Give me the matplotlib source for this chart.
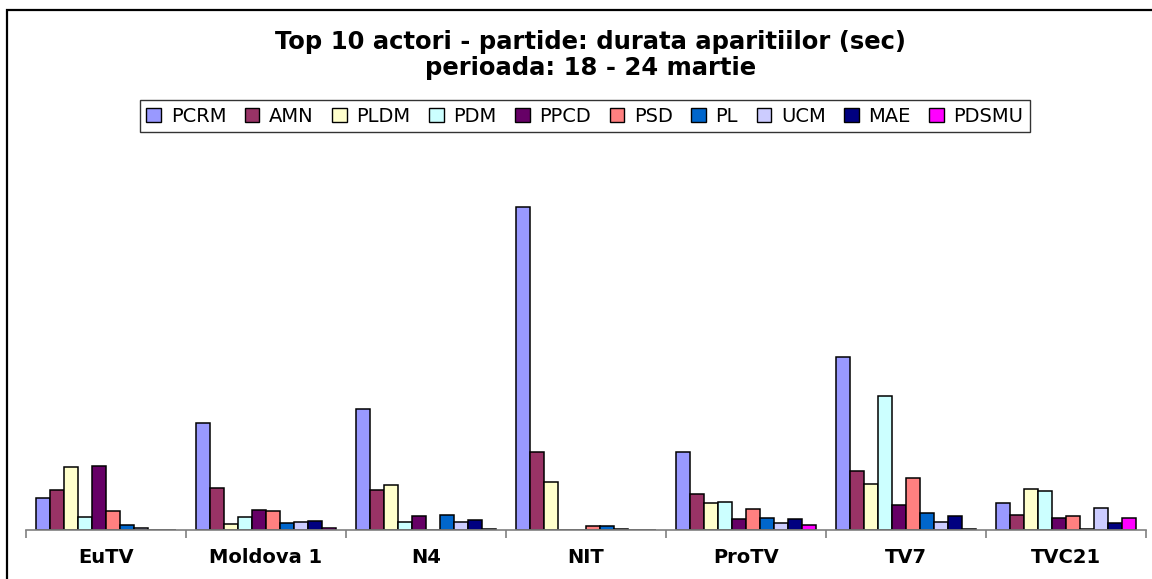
import matplotlib
matplotlib.use("Agg")
import matplotlib.pyplot as plt
import numpy as np
from matplotlib.patches import Rectangle, Patch

# channels and party series (relative units)
channels = ["EuTV", "Moldova 1", "N4", "NIT", "ProTV", "TV7", "TVC21"]
parties = ["PCRM", "AMN", "PLDM", "PDM", "PPCD", "PSD", "PL", "UCM", "MAE", "PDSMU"]

pcrm = [32, 107, 121, 323, 78, 173, 27]
amn = [40, 42, 40, 78, 36.5, 59, 15.5]
pldm = [63, 6, 45, 48, 27, 46.5, 41]
pdm = [13, 13, 8, 0, 28, 134, 39.5]
ppcd = [64, 20, 14, 0, 11, 25.5, 12]
psd = [19, 19, 0, 4, 21, 52, 14]
pl = [5, 7, 15, 4, 12.5, 17, 1]
ucm = [2, 8, 8, 1, 7, 8, 22.5]
mae = [0, 9, 10, 0, 11, 14, 7]
pdsmu = [0, 2, 1, 0, 5.5, 1, 12.5]

series = [pcrm, amn, pldm, pdm, ppcd, psd, pl, ucm, mae, pdsmu]
colors = ["#9999FF", "#993366", "#FFFFCC", "#CCFFFF", "#660066",
          "#FF8080", "#0066CC", "#CCCCFF", "#000080", "#FF00FF"]

W, H = 1152, 579
fig = plt.figure(figsize=(W / 100, H / 100), dpi=100)
plt.rcParams["font.family"] = "DejaVu Sans"

# outer chart border (cropped on right / bottom)
fig.patches.append(Rectangle((7 / W, -0.05), 1.2, 1 - 10 / H + 0.05,
                             transform=fig.transFigure, fill=False,
                             edgecolor="black", linewidth=1.6))

ax = fig.add_axes([26 / W, 1 - 530 / H, 1120 / W, 380 / H])

x = np.arange(len(channels))
bw = 0.0875
for i, (vals, c) in enumerate(zip(series, colors)):
    offs = (i - 4.5) * bw
    ax.bar(x + offs, vals, width=bw, color=c, edgecolor="black",
           linewidth=1.1, label=parties[i])

ax.set_xlim(-0.5, len(channels) - 0.5)
ax.set_ylim(0, 380)
ax.set_yticks([])
for s in ["top", "right", "left"]:
    ax.spines[s].set_visible(False)
ax.spines["bottom"].set_color("#808080")
ax.spines["bottom"].set_linewidth(1.2)

ax.set_xticks(x)
ax.set_xticklabels(channels, fontsize=14, fontweight="bold")
ax.tick_params(axis="x", which="major", length=0, pad=13)
ax.set_xticks(np.arange(len(channels) + 1) - 0.5, minor=True)
ax.tick_params(axis="x", which="minor", length=6, color="#808080", width=1.2)

fig.text(0.513, 1 - 42 / H, "Top 10 actori - partide: durata aparitiilor (sec)",
         ha="center", va="center", fontsize=17.5, fontweight="bold")
fig.text(0.513, 1 - 68 / H, "perioada: 18 - 24 martie",
         ha="center", va="center", fontsize=17.5, fontweight="bold")

handles = [Patch(facecolor=c, edgecolor="black", linewidth=1.0) for c in colors]
leg = fig.legend(handles, parties, loc="center", ncol=10,
                 bbox_to_anchor=(585 / W, 1 - 116 / H), fontsize=14,
                 frameon=True, fancybox=False, handlelength=0.75,
                 handleheight=0.7, handletextpad=0.5, columnspacing=0.95,
                 borderpad=0.35, borderaxespad=0)
leg.get_frame().set_edgecolor("black")
leg.get_frame().set_linewidth(1.0)

fig.savefig("out.png", dpi=100)
